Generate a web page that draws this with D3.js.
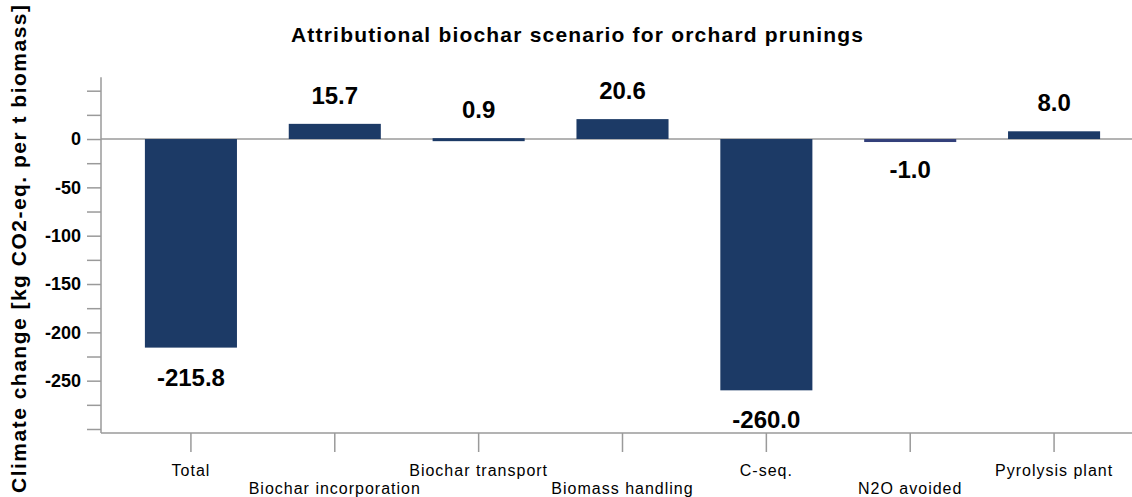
<!DOCTYPE html>
<html>
<head>
<meta charset="utf-8">
<script src="https://cdn.jsdelivr.net/npm/d3@7"></script>
<style>
  body { margin: 0; background: #fff; }
  svg { display: block; font-family: "Liberation Sans", Arial, sans-serif; }
</style>
</head>
<body>
<svg id="chart" width="1132" height="497"></svg>
<script>
// ---- data ----
const categories = ["Total", "Biochar incorporation", "Biochar transport", "Biomass handling",
                    "C-seq.", "N2O avoided", "Pyrolysis plant"];
const values = [-215.8, 15.7, 0.9, 20.6, -260.0, -1.0, 8.0];
const yTicks = d3.range(-300, 51, 25);
const yLabels = [0, -50, -100, -150, -200, -250];

const svg = d3.select("#chart");
const barColor = "#1c3a66";
const axisColor = "#9a9a9a";

// ---- scales ----
const y = d3.scaleLinear().domain([-300, 50]).range([429, 90.7]);
const x = d3.scaleBand()
    .domain(categories)
    .range([119, 1126])
    .paddingInner(0.36)
    .paddingOuter(0.18);

const axisX = 101;        // y axis position
const baseY = 433;        // x axis position
const yTopVal = 64;       // where the y axis line stops

// title
svg.append("text")
    .attr("x", 577)
    .attr("y", 42)
    .attr("text-anchor", "middle")
    .attr("textLength", 572)
    .attr("lengthAdjust", "spacing")
    .style("font-size", "21px")
    .style("font-weight", "bold")
    .text("Attributional biochar scenario for orchard prunings");

// y axis title
svg.append("text")
    .attr("transform", "translate(26,249) rotate(-90)")
    .attr("text-anchor", "middle")
    .attr("textLength", 488)
    .attr("lengthAdjust", "spacing")
    .style("font-size", "21px")
    .style("font-weight", "bold")
    .text("Climate change [kg CO2-eq. per t biomass]");

// y axis
const gy = svg.append("g")
    .attr("transform", `translate(${axisX},0)`)
    .call(d3.axisLeft(y)
        .tickValues(yTicks)
        .tickSize(14)
        .tickPadding(6)
        .tickFormat(d => yLabels.includes(d) ? d : ""));
gy.select(".domain").remove();
gy.selectAll(".tick line").attr("stroke", axisColor).attr("stroke-width", 1.5);
gy.selectAll(".tick text")
    .attr("fill", "#000")
    .style("font-size", "18px")
    .style("font-weight", "bold");
gy.append("line")
    .attr("x1", 0).attr("x2", 0)
    .attr("y1", y(yTopVal)).attr("y2", baseY)
    .attr("stroke", axisColor).attr("stroke-width", 1.5);

// zero line
svg.append("line")
    .attr("x1", axisX).attr("x2", 1132)
    .attr("y1", y(0)).attr("y2", y(0))
    .attr("stroke", axisColor).attr("stroke-width", 1.5);

// bars
svg.append("g").selectAll("rect")
    .data(values)
    .join("rect")
    .attr("x", (d, i) => x(categories[i]))
    .attr("width", x.bandwidth())
    .attr("y", d => y(Math.max(0, d)))
    .attr("height", d => Math.max(3, Math.abs(y(d) - y(0))))
    .attr("fill", (d, i) => Math.abs(d) < 1.5 && d < 0 ? "#33407a" : barColor);

// value labels
svg.append("g").selectAll("text")
    .data(values)
    .join("text")
    .attr("x", (d, i) => x(categories[i]) + x.bandwidth() / 2)
    .attr("y", d => d >= 0 ? y(d) - 20 : y(d) + 38)
    .attr("text-anchor", "middle")
    .style("font-size", "24px")
    .style("font-weight", "bold")
    .text(d => d.toFixed(1));

// x axis
const gx = svg.append("g")
    .attr("transform", `translate(0,${baseY})`)
    .call(d3.axisBottom(x).tickSize(19).tickSizeOuter(0));
gx.select(".domain").remove();
gx.append("line")
    .attr("x1", axisX).attr("x2", 1132)
    .attr("stroke", axisColor).attr("stroke-width", 1.5);
gx.selectAll(".tick line").attr("stroke", axisColor).attr("stroke-width", 1.5);
gx.selectAll(".tick text")
    .attr("fill", "#000")
    .attr("dy", null)
    .attr("y", (d, i) => i % 2 === 0 ? 43 : 61)
    .style("font-size", "16px")
    .style("letter-spacing", "1px");
</script>
</body>
</html>
